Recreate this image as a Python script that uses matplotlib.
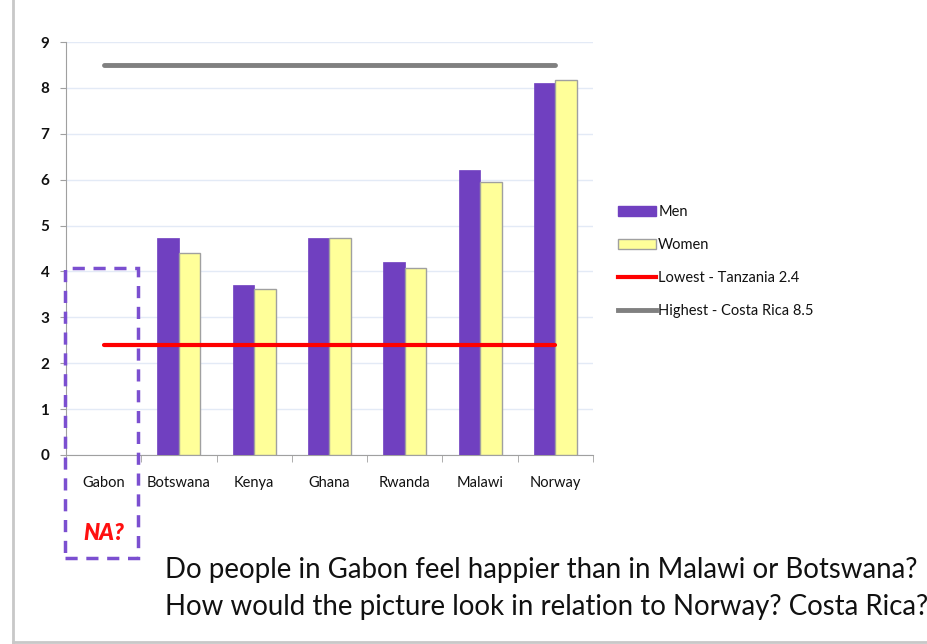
import matplotlib
matplotlib.use("Agg")
import matplotlib.pyplot as plt
from matplotlib.patches import Patch, Rectangle
from matplotlib.lines import Line2D
import numpy as np

plt.rcParams['font.family'] = ['Lato', 'DejaVu Sans']

countries = ["Gabon", "Botswana", "Kenya", "Ghana", "Rwanda", "Malawi", "Norway"]
men = [np.nan, 4.72, 3.70, 4.72, 4.20, 6.21, 8.10]
women = [np.nan, 4.40, 3.62, 4.72, 4.07, 5.95, 8.17]
lowest_value = 2.4
highest_value = 8.5
lowest_label = "Lowest - Tanzania 2.4"
highest_label = "Highest - Costa Rica 8.5"
yticks = [0, 1, 2, 3, 4, 5, 6, 7, 8, 9]

purple = "#7040C0"
yellow = "#FFFF99"

fig = plt.figure(figsize=(9.28, 6.44), dpi=100)
ax = fig.add_axes([66/928, 1-455/644, (593-66)/928, (455-42)/644])

x = np.arange(len(countries))
w = 0.285
ax.bar(x - w/2, men, width=w, color=purple, edgecolor=purple, linewidth=0.5, zorder=3)
ax.bar(x + w/2, women, width=w, color=yellow, edgecolor="#A0A0A0", linewidth=1, zorder=3)
ax.plot(x, [lowest_value]*len(x), color="#FF0000", lw=3, solid_capstyle='round', zorder=4)
ax.plot(x, [highest_value]*len(x), color="#808080", lw=3.5, solid_capstyle='round', zorder=4)

ax.set_xlim(-0.5, len(x)-0.5)
ax.set_ylim(0, 9)
ax.set_yticks(yticks)
ax.set_yticklabels([str(t) for t in yticks], fontsize=11, fontweight='bold', color="#111111")
ax.yaxis.grid(True, color="#E3EAF6", lw=1, zorder=0)
ax.set_axisbelow(True)
ax.set_xticks(x)
ax.set_xticklabels(countries, fontsize=10.5, color="#111111")
ax.set_xticks(np.arange(-0.5, len(x)), minor=True)
ax.tick_params(axis='x', which='major', length=0, pad=15)
ax.tick_params(axis='x', which='minor', length=5, color="#A0A0A0")
ax.tick_params(axis='y', length=4, color="#A0A0A0", pad=8)
for s in ['top', 'right']:
    ax.spines[s].set_visible(False)
for s in ['left', 'bottom']:
    ax.spines[s].set_color("#A0A0A0")

# NA box around Gabon
ax.add_patch(Rectangle((-0.515, -2.24), 0.97, 6.31, fill=False, edgecolor="#7B4FD0",
                       lw=2.5, linestyle=(0, (3.5, 2.5)), clip_on=False, zorder=5))
ax.text(0, -1.70, "NA?", color="#FF1010", fontsize=16, fontweight='heavy', fontstyle='italic',
        ha='center', va='center', clip_on=False)

handles = [Patch(facecolor=purple, edgecolor=purple),
           Patch(facecolor=yellow, edgecolor="#A0A0A0"),
           Line2D([0], [0], color="#FF0000", lw=3),
           Line2D([0], [0], color="#808080", lw=3.5)]
labels = ["Men", "Women", lowest_label, highest_label]
leg = fig.legend(handles, labels, loc='upper left', bbox_to_anchor=(605/928, 1-192/644),
                 frameon=False, fontsize=10.5, handlelength=2.6, handletextpad=0.15,
                 labelspacing=1.3)
for t in leg.get_texts():
    t.set_color("#111111")

fig.text(165/928, 1-570/644, "Do people in Gabon feel happier than in Malawi or Botswana?",
         fontsize=19.9, va='center', ha='left', color="#111111")
fig.text(165/928, 1-607/644, "How would the picture look in relation to Norway? Costa Rica?",
         fontsize=19.9, va='center', ha='left', color="#111111")

# slide border
fig.add_artist(Line2D([13/928, 13/928], [0, 1], color="#C8C8C8", lw=2, transform=fig.transFigure))
fig.add_artist(Line2D([13/928, 1], [2/644, 2/644], color="#C8C8C8", lw=2, transform=fig.transFigure))

fig.savefig("out.png", dpi=100)
